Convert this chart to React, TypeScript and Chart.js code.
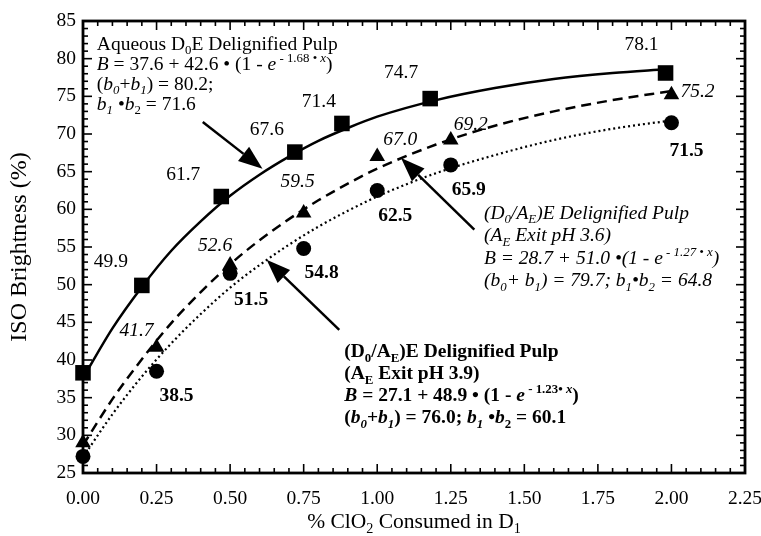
import React, { useEffect, useRef } from "react";
import { Chart, registerables } from "chart.js";
Chart.register(...registerables);

// ---------- data ----------
const squareX = [0, 0.2, 0.47, 0.72, 0.88, 1.18, 1.98];
const squareY = [38.3, 49.9, 61.7, 67.6, 71.4, 74.7, 78.1];
const squareLabels = ["", "49.9", "61.7", "67.6", "71.4", "74.7", "78.1"];

const triX = [0, 0.25, 0.5, 0.75, 1.0, 1.25, 2.0];
const triY = [29.0, 41.7, 52.6, 59.5, 67.0, 69.2, 75.2];
const triLabels = ["", "41.7", "52.6", "59.5", "67.0", "69.2", "75.2"];

const circX = [0, 0.25, 0.5, 0.75, 1.0, 1.25, 2.0];
const circY = [27.2, 38.5, 51.5, 54.8, 62.5, 65.9, 71.5];
const circLabels = ["", "38.5", "51.5", "54.8", "62.5", "65.9", "71.5"];

const solidX = [0, 0.1, 0.2, 0.3, 0.4, 0.5, 0.6, 0.7, 0.8, 0.9, 1.0, 1.2, 1.4, 1.6, 1.8, 1.98];
const solidY = [37.6, 44.2, 49.7, 54.5, 58.4, 61.8, 64.6, 67.0, 69.1, 70.8, 72.3, 74.5, 76.1, 77.3, 78.1, 78.6];

const dashX = [0, 0.1, 0.2, 0.3, 0.4, 0.5, 0.6, 0.7, 0.8, 0.9, 1.0, 1.2, 1.4, 1.6, 1.8, 2.0];
const dashY = [28.7, 34.8, 40.1, 44.9, 49.0, 52.7, 55.9, 58.7, 61.2, 63.4, 65.4, 68.6, 71.1, 73.0, 74.5, 75.7];

const dotX = [0, 0.1, 0.2, 0.3, 0.4, 0.5, 0.6, 0.7, 0.8, 0.9, 1.0, 1.2, 1.4, 1.6, 1.8, 2.0];
const dotY = [27.1, 32.8, 37.8, 42.2, 46.1, 49.6, 52.6, 55.3, 57.7, 59.8, 61.7, 64.8, 67.2, 69.2, 70.7, 71.8];

const xTickLabels = ["0.00", "0.25", "0.50", "0.75", "1.00", "1.25", "1.50", "1.75", "2.00", "2.25"];
const yTickLabels = ["25", "30", "35", "40", "45", "50", "55", "60", "65", "70", "75", "80", "85"];

// ---------- layout (pixel offsets of value labels from their markers) ----------
const squareOff = [[0, 0], [-31, -24], [-38, -22], [-28, -22], [-23, -22], [-29, -26], [-24, -28]];
const triOff = [[0, 0], [-20, -16], [-15, -19], [-6, -31], [23, -17], [20, -15], [26, -3]];
const circOff = [[0, 0], [20, 25], [21, 27], [18, 24], [18, 25], [18, 25], [15, 28]];

const FONT = '"Liberation Serif", "Times New Roman", serif';
const FS = 19.5;

type Run = [string, string];

const block1: Run[][] = [
  [["Aqueous D", ""], ["0", "_"], ["E Delignified Pulp", ""]],
  [["B", "i"], [" = 37.6 + 42.6 • (1 - ", ""], ["e", "i"], [" - 1.68 • ", "^"], ["x", "i^"], [")", ""]],
  [["(", ""], ["b", "i"], ["0", "i_"], ["+", ""], ["b", "i"], ["1", "i_"], [") = 80.2;", ""]],
  [["b", "i"], ["1", "i_"], [" •", ""], ["b", "i"], ["2", "_"], [" = 71.6", ""]],
];
const block2: Run[][] = [
  [["(D", ""], ["0", "_"], ["/A", ""], ["E", "_"], [")E Delignified Pulp", ""]],
  [["(A", ""], ["E", "_"], [" Exit pH 3.6)", ""]],
  [["B = 28.7 + 51.0 •(1 - e", ""], [" - 1.27 • x", "^"], [")", ""]],
  [["(b", ""], ["0", "_"], ["+ b", ""], ["1", "_"], [") = 79.7; b", ""], ["1", "_"], ["•b", ""], ["2", "_"], [" = 64.8", ""]],
];
const block3: Run[][] = [
  [["(D", ""], ["0", "_"], ["/A", ""], ["E", "_"], [")E Delignified Pulp", ""]],
  [["(A", ""], ["E", "_"], [" Exit pH 3.9)", ""]],
  [["B", "i"], [" = 27.1 + 48.9 • (1 - ", ""], ["e", "i"], [" - 1.23• ", "^"], ["x", "i^"], [")", ""]],
  [["(", ""], ["b", "i"], ["0", "i_"], ["+", ""], ["b", "i"], ["1", "i_"], [") = 76.0; ", ""], ["b", "i"], ["1", "i_"], [" •", ""], ["b", "i"], ["2", "_"], [" = 60.1", ""]],
];

// annotation anchors in data units
const blocks = [
  { runs: block1, x: 0.047, y: 82.0, base: "", gap: 20, size: FS },
  { runs: block2, x: 1.363, y: 59.6, base: "i", gap: 22.5, size: FS },
  { runs: block3, x: 0.888, y: 41.2, base: "b", gap: 22, size: FS },
];
const arrows = [
  { from: [0.407, 71.6], to: [0.61, 65.4] },
  { from: [1.33, 57.3], to: [1.081, 66.8] },
  { from: [0.871, 44.0], to: [0.624, 53.3] },
];

function drawRich(ctx: CanvasRenderingContext2D, x: number, y: number, runs: Run[], size: number, base: string) {
  let cx = x;
  const baseline = y + size * 0.33;
  for (const [t, fl] of runs) {
    const f = base + fl;
    const it = f.includes("i");
    const bd = f.includes("b");
    const sub = f.includes("_");
    const sup = f.includes("^");
    const fs = sub || sup ? size * 0.66 : size;
    ctx.font = `${it ? "italic " : ""}${bd ? "bold " : ""}${fs}px ${FONT}`;
    const dy = sub ? size * 0.22 : sup ? -size * 0.42 : 0;
    ctx.fillText(t, cx, baseline + dy);
    cx += ctx.measureText(t).width;
  }
  return cx - x;
}

function drawArrow(ctx: CanvasRenderingContext2D, x1: number, y1: number, x2: number, y2: number) {
  const ang = Math.atan2(y2 - y1, x2 - x1);
  const L = 24, W = 9;
  const bx = x2 - L * Math.cos(ang), by = y2 - L * Math.sin(ang);
  ctx.beginPath();
  ctx.moveTo(x1, y1);
  ctx.lineTo(bx, by);
  ctx.lineWidth = 2.5;
  ctx.stroke();
  ctx.beginPath();
  ctx.moveTo(x2, y2);
  ctx.lineTo(bx + W * Math.sin(ang), by - W * Math.cos(ang));
  ctx.lineTo(bx - W * Math.sin(ang), by + W * Math.cos(ang));
  ctx.closePath();
  ctx.fill();
}

const framePlugin = {
  id: "frame",
  beforeDatasetsDraw(chart: any) {
    const { ctx, chartArea: a, scales } = chart;
    const xs = scales.x, ys = scales.y;
    ctx.save();
    ctx.strokeStyle = "#000";
    ctx.lineWidth = 1.6;
    const seg = (x1: number, y1: number, x2: number, y2: number) => {
      ctx.beginPath(); ctx.moveTo(x1, y1); ctx.lineTo(x2, y2); ctx.stroke();
    };
    for (let i = 0; i <= 45; i++) {
      const px = xs.getPixelForValue(i * 0.05);
      const L = i % 5 === 0 ? 9 : 5;
      seg(px, a.bottom, px, a.bottom - L);
      seg(px, a.top, px, a.top + L);
    }
    for (let v = 25; v <= 85; v++) {
      const py = ys.getPixelForValue(v);
      const L = v % 5 === 0 ? 9 : 5;
      seg(a.left, py, a.left + L, py);
      seg(a.right, py, a.right - L, py);
    }
    ctx.lineWidth = 2.8;
    ctx.strokeRect(a.left, a.top, a.right - a.left, a.bottom - a.top);
    ctx.restore();
  },
  afterDatasetsDraw(chart: any) {
    const { ctx, scales } = chart;
    const xs = scales.x, ys = scales.y;
    ctx.save();
    ctx.fillStyle = "#000";
    ctx.strokeStyle = "#000";
    const lab = (xv: number[], yv: number[], labels: string[], off: number[][], style: string) => {
      ctx.font = `${style}${FS}px ${FONT}`;
      ctx.textAlign = "center";
      ctx.textBaseline = "middle";
      labels.forEach((t, i) => {
        if (!t) return;
        const px = xs.getPixelForValue(xv[i]) + off[i][0];
        const py = ys.getPixelForValue(yv[i]) + off[i][1];
        ctx.fillText(t, px, py);
      });
    };
    lab(squareX, squareY, squareLabels, squareOff, "");
    lab(triX, triY, triLabels, triOff, "italic ");
    lab(circX, circY, circLabels, circOff, "bold ");
    ctx.textAlign = "left";
    ctx.textBaseline = "alphabetic";
    for (const b of blocks) {
      const x0 = xs.getPixelForValue(b.x);
      const y0 = ys.getPixelForValue(b.y);
      b.runs.forEach((line, i) => drawRich(ctx, x0, y0 + i * b.gap, line, b.size, b.base));
    }
    for (const ar of arrows) {
      drawArrow(ctx, xs.getPixelForValue(ar.from[0]), ys.getPixelForValue(ar.from[1]),
        xs.getPixelForValue(ar.to[0]), ys.getPixelForValue(ar.to[1]));
    }
    // axis titles
    const XT = 21.5;
    const xt: Run[] = [["% ClO", ""], ["2", "_"], [" Consumed in D", ""], ["1", "_"]];
    let w = 0;
    for (const [t, fl] of xt) {
      ctx.font = `${fl.includes("_") ? XT * 0.66 : XT}px ${FONT}`;
      w += ctx.measureText(t).width;
    }
    const a = chart.chartArea;
    drawRich(ctx, (a.left + a.right) / 2 - w / 2, 521, xt, XT, "");
    ctx.translate(20, 247);
    ctx.rotate(-Math.PI / 2);
    ctx.font = `24px ${FONT}`;
    ctx.textAlign = "center";
    ctx.textBaseline = "middle";
    ctx.fillText("ISO Brightness (%)", 0, 0);
    ctx.restore();
  },
};

const pts = (xs: number[], ys: number[]) => xs.map((x, i) => ({ x, y: ys[i] }));

export default function App() {
  const ref = useRef<HTMLCanvasElement>(null);
  useEffect(() => {
    document.body.style.margin = "0";
    const c = ref.current!;
    const chart = new Chart(c, {
      type: "line",
      data: {
        datasets: [
          { data: pts(solidX, solidY), borderColor: "#000", borderWidth: 2.5, pointRadius: 0, cubicInterpolationMode: "monotone", fill: false },
          { data: pts(dashX, dashY), borderColor: "#000", borderWidth: 2.5, borderDash: [10, 6], pointRadius: 0, cubicInterpolationMode: "monotone", fill: false },
          { data: pts(dotX, dotY), borderColor: "#000", borderWidth: 2.2, borderDash: [2, 3], pointRadius: 0, cubicInterpolationMode: "monotone", fill: false },
          { data: pts(squareX, squareY), showLine: false, pointStyle: "rect", pointRadius: 11, backgroundColor: "#000", borderColor: "#000", borderWidth: 0, clip: false },
          { data: pts(triX, triY), showLine: false, pointStyle: "triangle", pointRadius: 9, backgroundColor: "#000", borderColor: "#000", borderWidth: 0, clip: false },
          { data: pts(circX, circY), showLine: false, pointStyle: "circle", pointRadius: 7.5, backgroundColor: "#000", borderColor: "#000", borderWidth: 0, clip: false },
        ] as any,
      },
      options: {
        animation: false,
        responsive: false,
        devicePixelRatio: 1,
        layout: { padding: { left: 0, right: 16, top: 21, bottom: 0 } },
        plugins: { legend: { display: false }, tooltip: { enabled: false } },
        scales: {
          x: {
            type: "linear", min: 0, max: 2.25,
            grid: { display: false, drawTicks: false },
            border: { display: false },
            ticks: {
              stepSize: 0.25, autoSkip: false, maxRotation: 0, padding: 14, color: "#000",
              font: { family: FONT, size: FS },
              callback: (v: any) => xTickLabels[Math.round(Number(v) / 0.25)] ?? "",
            },
            afterFit: (s: any) => { s.height = 63; s.paddingLeft = 0; s.paddingRight = 0; },
          },
          y: {
            type: "linear", min: 25, max: 85,
            grid: { display: false, drawTicks: false },
            border: { display: false },
            ticks: {
              stepSize: 5, padding: 7, color: "#000",
              font: { family: FONT, size: FS },
              callback: (v: any) => yTickLabels[Math.round((Number(v) - 25) / 5)] ?? "",
            },
            afterFit: (s: any) => { s.width = 83; s.paddingTop = 0; s.paddingBottom = 0; },
          },
        },
      } as any,
      plugins: [framePlugin],
    });
    return () => chart.destroy();
  }, []);
  return <canvas ref={ref} width={761} height={536} style={{ display: "block" }} />;
}
